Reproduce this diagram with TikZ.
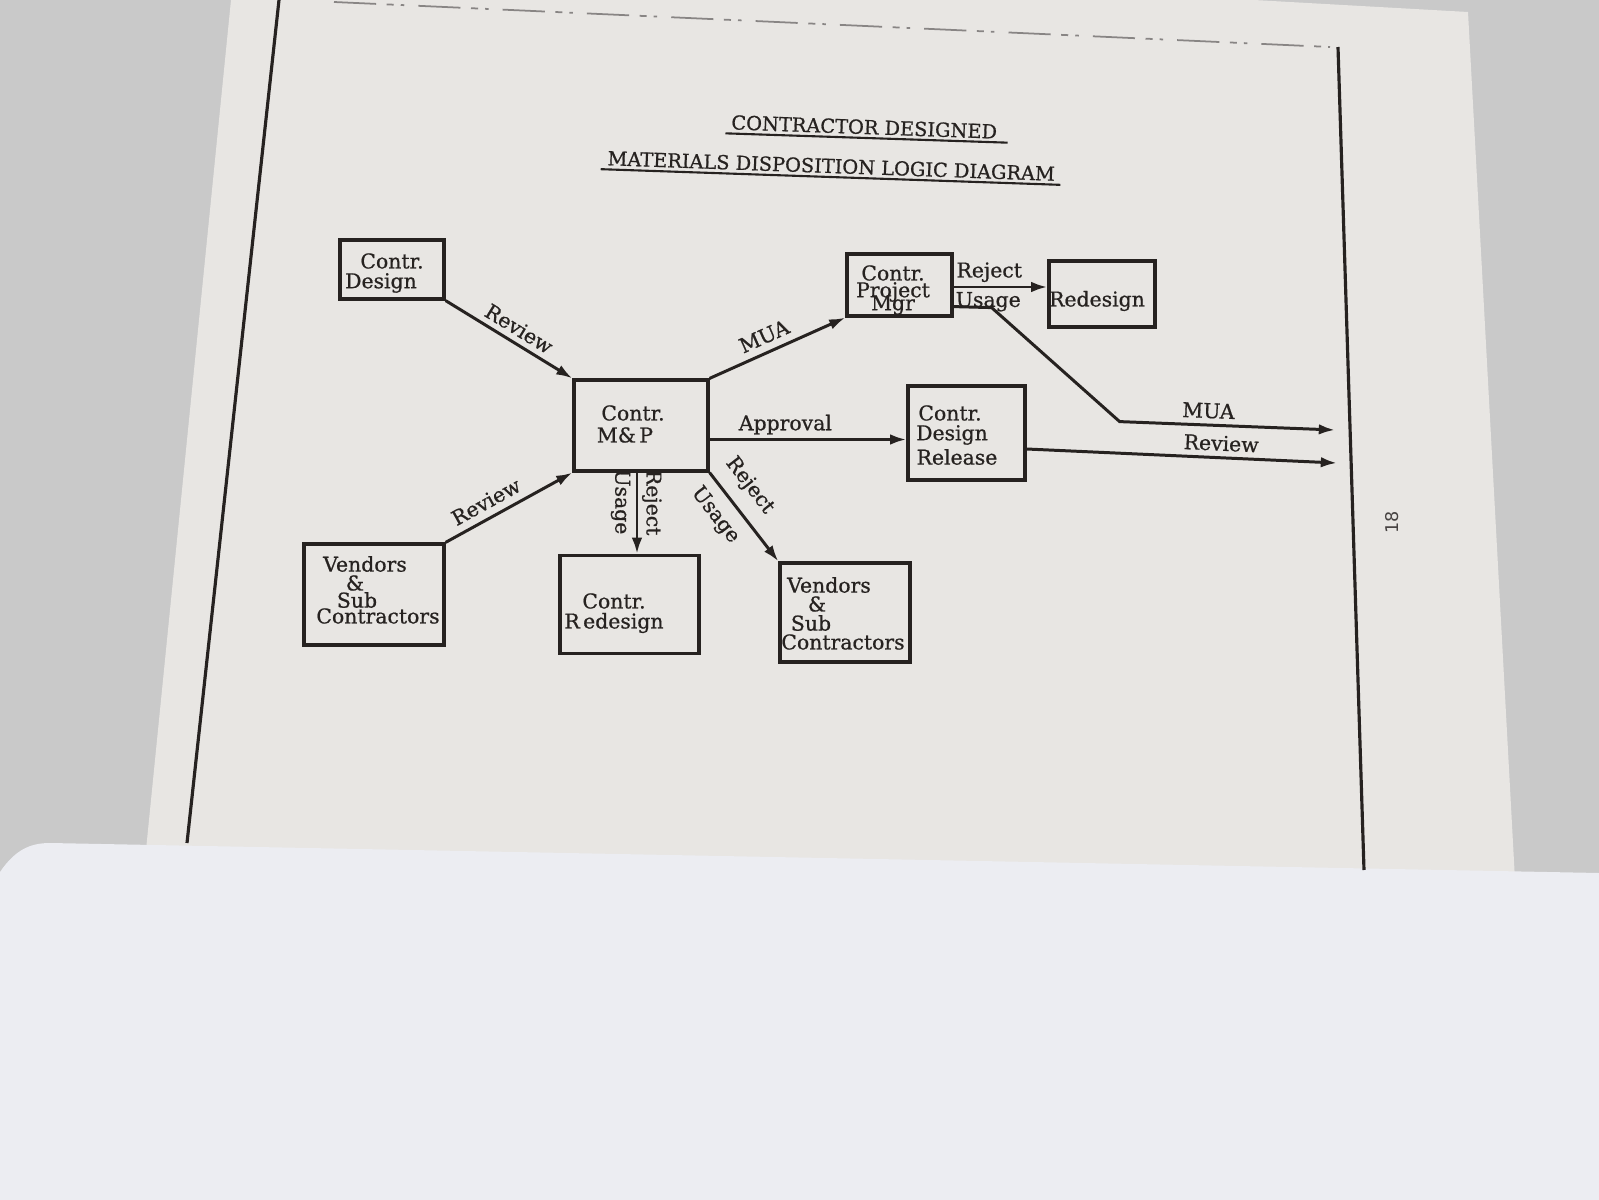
\documentclass[tikz,border=0pt]{standalone}
\usepackage{fontspec}
\setmainfont{DejaVu Serif}[FakeBold=0.8]
\newfontfamily\pnfont{DejaVu Sans}
\usetikzlibrary{arrows.meta,calc}
\definecolor{marble}{HTML}{C9C9C9}
\definecolor{paper}{HTML}{E8E6E3}
\definecolor{sheet}{HTML}{ECEDF2}
\definecolor{ink}{HTML}{262220}
\begin{document}
\begin{tikzpicture}[x=0.01cm,y=-0.01cm,
  box/.style={draw=ink,line width=0.9pt,inner sep=0pt},
  txt/.style={text=ink,font=\fontsize{5.8}{6}\selectfont,inner sep=0pt},
  lbl/.style={text=ink,font=\fontsize{5.8}{6}\selectfont,inner sep=1.5pt},
  ttl/.style={text=ink,font=\fontsize{5.5}{6}\selectfont,inner sep=0pt},
  uline/.style={draw=ink,line width=0.6pt},
  arr/.style={draw=ink,line width=0.85pt,-{Latex[length=4.6pt,width=3pt]}},
  border/.style={draw=ink,line width=0.9pt}]
\useasboundingbox (0,0) rectangle (1599,1200);
% background, paper, lower sheet
\fill[marble] (0,0) rectangle (1599,1200);
\fill[paper] (231,0) -- (1254,0) -- (1468,12) -- (1515,880) -- (143,880) -- cycle;
\fill[sheet] (0,872) .. controls (15,850) and (30,843) .. (50,843) -- (1599,873) -- (1599,1200) -- (0,1200) -- cycle;
% page frame
\draw[border] (279,0) -- (187,843);
\draw[border] (1338,47) -- (1364,870);
\draw[ink!55,line width=0.5pt,dash pattern=on 12pt off 3pt on 2pt off 2pt on 1pt off 4pt] (334,2) -- (1330,47);
% title
\node[ttl,rotate=-2,anchor=base] (t1) at (864,134) {CONTRACTOR DESIGNED};
\node[ttl,rotate=-2,anchor=base] (t2) at (831,173) {MATERIALS DISPOSITION LOGIC DIAGRAM};
\draw[uline] ([xshift=-0.05cm,yshift=-0.04cm]t1.base west) -- ([xshift=0.1cm,yshift=-0.04cm]t1.base east);
\draw[uline] ([xshift=-0.06cm,yshift=-0.04cm]t2.base west) -- ([xshift=0.05cm,yshift=-0.04cm]t2.base east);
% boxes
\node[box,minimum width=1.04cm,minimum height=0.59cm] (cd) at (392,269.5) {};
\node[txt] (cd1) at (392,261) {Contr.};
\node[txt] (cd2) at (381,283) {Design};
\node[box,minimum width=1.34cm,minimum height=0.91cm] (mp) at (641,425.5) {};
\node[txt] (mp1) at (633,413) {Contr.};
\node[txt] (mp2) at (625,435) {M\&\,P};
\node[box,minimum width=1.05cm,minimum height=0.62cm] (pm) at (899.5,285) {};
\node[txt] (pm1) at (893,273) {Contr.};
\node[txt] (pm2) at (893,292) {Project};
\node[txt] (pm3) at (893,305) {Mgr};
\node[box,minimum width=1.06cm,minimum height=0.66cm] (rx) at (1102,294) {};
\node[txt] (rx1) at (1097,301) {Redesign};
\node[box,minimum width=1.17cm,minimum height=0.94cm] (dr) at (966.5,433) {};
\node[txt] (dr1) at (950,413) {Contr.};
\node[txt] (dr2) at (952,435) {Design};
\node[txt] (dr3) at (957,457) {Release};
\node[box,minimum width=1.40cm,minimum height=1.01cm] (lv) at (374,594.5) {};
\node[txt] (lv1) at (365,564) {Vendors};
\node[txt] (lv2) at (355,583) {\&};
\node[txt] (lv3) at (357,600) {Sub};
\node[txt] (lv4) at (378,616) {Contractors};
\node[box,minimum width=1.39cm,minimum height=0.98cm] (rd) at (629.5,604.5) {};
\node[txt] (rd1) at (614,601) {Contr.};
\node[txt] (rd2) at (614,623) {R\,edesign};
\node[box,minimum width=1.30cm,minimum height=0.99cm] (rv) at (845,612.5) {};
\node[txt] (rv1) at (829,585) {Vendors};
\node[txt] (rv2) at (817,604) {\&};
\node[txt] (rv3) at (811,623) {Sub};
\node[txt] (rv4) at (843,642) {Contractors};
% connectors
\draw[arr] (cd.south east) -- (mp.north west) node[lbl,pos=0.52,sloped,anchor=south] {Review};
\draw[arr] (lv.north east) -- (mp.south west) node[lbl,pos=0.38,sloped,anchor=south,inner sep=2pt] {Review};
\draw[arr] (mp.north east) -- (pm.south west) node[lbl,pos=0.45,sloped,anchor=south,inner sep=2pt] {MUA};
\draw[arr] (mp.south east) -- (rv.north west)
  node[lbl,pos=0.31,sloped,anchor=south,inner sep=3.5pt] {Reject}
  node[lbl,pos=0.33,sloped,anchor=north,inner sep=3pt] {Usage};
\coordinate (d0) at ($(mp.south)+(-4,0)$);
\draw[arr] (d0) -- (d0 |- rd.north)
  node[lbl,pos=0.37,rotate=-90,anchor=south,inner sep=1pt] {Reject}
  node[lbl,pos=0.36,rotate=-90,anchor=north,inner sep=1.5pt] {Usage};
\coordinate (ap) at ($(mp.east)+(0,14)$);
\draw[arr] (ap) -- (ap -| dr.west) node[lbl,pos=0.385,anchor=south,inner sep=1pt] {Approval};
\coordinate (pr) at ($(pm.east)+(0,2)$);
\draw[arr] (pr) -- (pr -| rx.west)
  node[lbl,pos=0.38,anchor=south,inner sep=1pt] {Reject}
  node[lbl,pos=0.37,anchor=north,inner sep=1pt] {Usage};
\coordinate (m0) at ($(pm.south east)+(0,-11)$);
\coordinate (muaend) at (1335,430);
\draw[arr] (m0) -- ++(38,1) -- ++(128,114) -- (muaend) node[lbl,pos=0.41,sloped,anchor=south,inner sep=1.5pt] {MUA};
\coordinate (r0) at ($(dr.east)+(0,16)$);
\coordinate (revend) at (1337,463);
\draw[arr] (r0) -- (revend) node[lbl,pos=0.625,sloped,anchor=south,inner sep=1.5pt] {Review};
% page number
\node[text=ink!85,font=\pnfont\fontsize{5}{5}\selectfont,rotate=90] (pg) at (1392,522) {18};
\end{tikzpicture}
\end{document}
